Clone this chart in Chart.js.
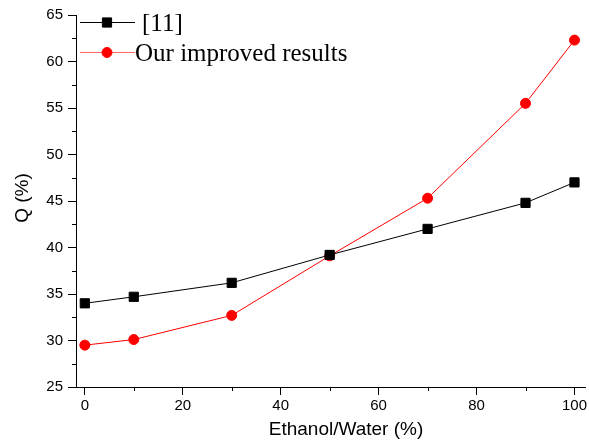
<!DOCTYPE html>
<html>
<head>
<meta charset="utf-8">
<script src="https://cdn.jsdelivr.net/npm/chart.js@4.4.1/dist/chart.umd.min.js"></script>
<style>
html,body{margin:0;padding:0;background:#fff}
#wrap{width:589px;height:443px}
</style>
</head>
<body>
<div id="wrap"><canvas id="chart" width="589" height="443"></canvas></div>
<script>
// =============================
// DATA
// =============================

const ethanol = [0, 10, 30, 50, 70, 90, 100]
const ref11 = [34.0, 34.7, 36.2, 39.2, 42.0, 44.8, 47.0]
const improved = [29.5, 30.1, 32.7, 39.1, 45.3, 55.5, 62.3]

const xTicks = [0, 20, 40, 60, 80, 100]
const xMinor = [10, 30, 50, 70, 90]
const yTicks = [25, 30, 35, 40, 45, 50, 55, 60, 65]
const yMinor = [27.5, 32.5, 37.5, 42.5, 47.5, 52.5, 57.5, 62.5]

const seriesNames = ["[11]", "Our improved results"]
const xTitle = "Ethanol/Water (%)"
const yTitle = "Q (%)"

function toPoints(ys){
  return ethanol.map((x, i) => ({x: x, y: ys[i]}))
}


// =============================
// MINOR TICKS + TITLES + LEGEND
// =============================

const extras = {
  id: "extras",
  afterDraw(chart){
    const ctx = chart.ctx
    const xs = chart.scales.x
    const ys = chart.scales.y
    const area = chart.chartArea

    ctx.save()
    ctx.strokeStyle = "#000"
    ctx.lineWidth = 1
    ctx.beginPath()
    yMinor.forEach(v => {
      const p = Math.round(ys.getPixelForValue(v)) + 0.5
      ctx.moveTo(area.left - 4, p)
      ctx.lineTo(area.left, p)
    })
    xMinor.forEach(v => {
      const p = Math.round(xs.getPixelForValue(v)) + 0.5
      ctx.moveTo(p, area.bottom)
      ctx.lineTo(p, area.bottom + 4)
    })
    ctx.stroke()

    // axis titles
    ctx.fillStyle = "#000"
    ctx.textAlign = "center"
    ctx.textBaseline = "middle"
    ctx.font = "19px 'Liberation Sans', Arial, sans-serif"
    ctx.fillText(xTitle, 346, 430)

    ctx.translate(23, (area.top + area.bottom) / 2 - 3)
    ctx.rotate(-Math.PI / 2)
    ctx.fillText(yTitle, 0, 0)
    ctx.restore()

    // legend inside plot
    const rows = [
      {y: area.top + 7, color: "#000", line: "#000", style: "rect", r: 6.5, tx: 142},
      {y: area.top + 37, color: "#ff0000", line: "#ff6666", style: "circle", r: 5, tx: 135}
    ]
    ctx.save()
    rows.forEach((row, i) => {
      ctx.strokeStyle = row.line
      ctx.lineWidth = 1
      ctx.beginPath()
      ctx.moveTo(area.left + 4, row.y + 0.5)
      ctx.lineTo(area.left + 59, row.y + 0.5)
      ctx.stroke()
      ctx.fillStyle = row.color
      ctx.strokeStyle = row.color
      Chart.helpers.drawPoint(ctx, {pointStyle: row.style, radius: row.r, borderWidth: 1}, area.left + 31, row.y + 0.5)
      ctx.fillStyle = "#000"
      ctx.font = "25px 'Liberation Serif', 'Times New Roman', serif"
      ctx.textAlign = "left"
      ctx.textBaseline = "middle"
      ctx.fillText(seriesNames[i], row.tx, row.y + 2)
    })
    ctx.restore()
  }
}


// =============================
// CHART
// =============================

const tickFont = {family: "'Liberation Sans', Arial, sans-serif", size: 15}

new Chart(document.getElementById("chart"), {
  type: "line",
  data: {
    datasets: [
      {
        label: seriesNames[0],
        data: toPoints(ref11),
        borderColor: "#000",
        backgroundColor: "#000",
        borderWidth: 1,
        pointStyle: "rect",
        pointRadius: 6.5,
        pointBorderWidth: 1
      },
      {
        label: seriesNames[1],
        data: toPoints(improved),
        borderColor: "#ff0000",
        backgroundColor: "#ff0000",
        borderWidth: 1,
        pointStyle: "circle",
        pointRadius: 5,
        pointBorderWidth: 1
      }
    ]
  },
  options: {
    responsive: false,
    animation: false,
    events: [],
    layout: {autoPadding: false, padding: {top: 15, right: 0, left: 0, bottom: 0}},
    plugins: {legend: {display: false}, tooltip: {enabled: false}},
    scales: {
      x: {
        type: "linear",
        min: -1.8,
        max: 102.2,
        afterBuildTicks: s => { s.ticks = xTicks.map(v => ({value: v})) },
        afterFit: s => { s.height = 56 },
        grid: {drawOnChartArea: false, drawTicks: true, tickLength: 8, color: "#000"},
        border: {display: true, color: "#000", width: 1},
        ticks: {color: "#000", font: tickFont, padding: 2, maxRotation: 0, autoSkip: false}
      },
      y: {
        min: 25,
        max: 65,
        afterBuildTicks: s => { s.ticks = yTicks.map(v => ({value: v})) },
        afterFit: s => { s.width = 76 },
        grid: {drawOnChartArea: false, drawTicks: true, tickLength: 8, color: "#000"},
        border: {display: true, color: "#000", width: 1},
        ticks: {color: "#000", font: tickFont, padding: 5, autoSkip: false}
      }
    }
  },
  plugins: [extras]
})
</script>
</body>
</html>
